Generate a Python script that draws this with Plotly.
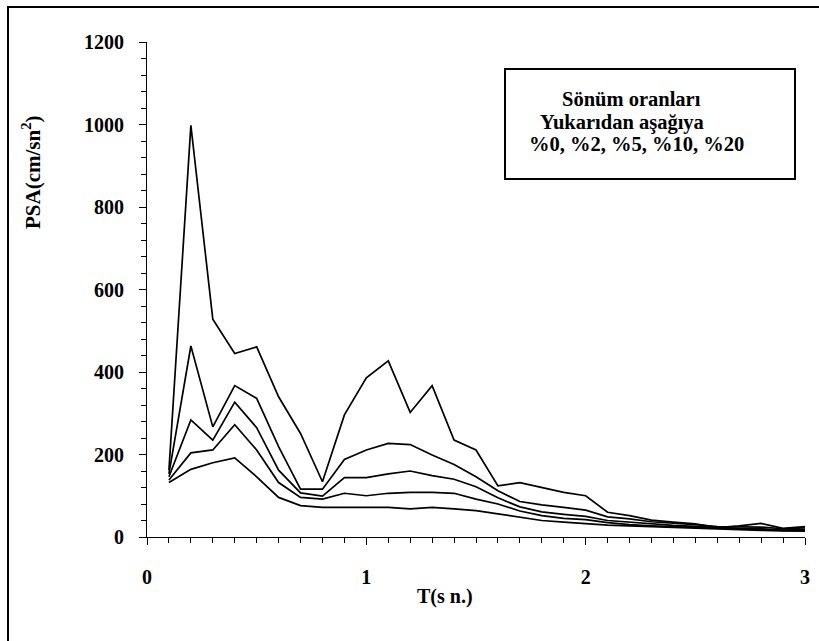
import plotly.graph_objects as go

# Periods T (s) and pseudo-spectral acceleration for each damping ratio
periods = [round(0.1 * i, 1) for i in range(1, 31)]

psa_0 = [162, 998, 528, 445, 461, 340, 251, 134, 296, 386,
         427, 302, 367, 235, 211, 124, 132, 120, 108, 100,
         60, 52, 41, 36, 32, 23, 27, 33, 21, 25]
psa_2 = [153, 463, 267, 367, 336, 219, 116, 116, 188, 211,
         227, 224, 199, 176, 146, 112, 86, 78, 72, 65,
         49, 44, 37, 34, 30, 25, 24, 24, 20, 22]
psa_5 = [146, 284, 235, 327, 265, 162, 107, 99, 144, 144,
         153, 160, 149, 140, 122, 95, 73, 61, 55, 50,
         40, 36, 32, 28, 26, 23, 21, 20, 17, 18]
psa_10 = [138, 204, 211, 272, 211, 132, 96, 92, 106, 100,
          106, 108, 108, 106, 92, 80, 63, 52, 45, 42,
          35, 30, 27, 25, 23, 21, 20, 18, 16, 16]
psa_20 = [132, 164, 180, 192, 146, 96, 76, 72, 72, 72,
          72, 68, 72, 68, 64, 56, 48, 40, 36, 32,
          29, 27, 25, 23, 21, 20, 18, 16, 15, 14]

series = [psa_0, psa_2, psa_5, psa_10, psa_20]
names = ["%0", "%2", "%5", "%10", "%20"]

legend_lines = ["Sönüm oranları", "Yukarıdan aşağıya", "%0, %2, %5, %10, %20"]

FONT = "Liberation Serif"

fig = go.Figure()
for vals, name in zip(series, names):
    fig.add_trace(go.Scatter(x=periods, y=vals, mode="lines", name=name,
                             line=dict(color="black", width=1.7),
                             showlegend=False))

W, H = 819, 641
L, R, T, B = 147, 14, 42, 104
pw, ph = W - L - R, H - T - B


def px_x(p):
    return (p - L) / pw


def px_y(p):
    return (H - B - p) / ph


tick_font = dict(family=FONT, size=20, color="black", weight="bold")
axis_common = dict(showline=True, linecolor="black", linewidth=1.2,
                   ticks="outside", tickcolor="black", showgrid=False,
                   zeroline=False, mirror=False, tickfont=tick_font)

fig.update_xaxes(range=[0, 3], tickvals=[0, 1, 2, 3], ticklen=7, tickwidth=1.2,
                 ticklabelstandoff=15,
                 minor=dict(dtick=0.1, tick0=0, ticklen=5, ticks="outside",
                            tickcolor="black", tickwidth=1.2, showgrid=False),
                 **axis_common)
fig.update_yaxes(range=[0, 1200], tickvals=[0, 200, 400, 600, 800, 1000, 1200],
                 ticklen=7, tickwidth=1.2, ticklabelstandoff=11,
                 minor=dict(dtick=40, tick0=0, ticklen=5, ticks="outside",
                            tickcolor="black", tickwidth=1.2, showgrid=False),
                 **axis_common)

shapes = [
    # outer frame
    dict(type="rect", xref="paper", yref="paper",
         x0=px_x(8), x1=px_x(840), y0=px_y(660), y1=px_y(7),
         line=dict(color="black", width=2), layer="below"),
    # note box
    dict(type="rect", xref="paper", yref="paper",
         x0=px_x(505), x1=px_x(795), y0=px_y(179), y1=px_y(69),
         line=dict(color="black", width=2)),
]

annotations = [
    dict(text="<b>PSA(cm/sn<sup>2</sup>)</b>", xref="paper", yref="paper",
         x=px_x(31), y=px_y(172), textangle=-90, showarrow=False,
         xanchor="center", yanchor="middle",
         font=dict(family=FONT, size=21, color="black")),
    dict(text="<b>T(s n.)</b>", xref="paper", yref="paper",
         x=px_x(445), y=px_y(596), showarrow=False,
         xanchor="center", yanchor="middle",
         font=dict(family=FONT, size=20, color="black")),
]
for txt, cx, cy in zip(legend_lines, [631, 622, 636], [99, 122, 144]):
    annotations.append(dict(text=f"<b>{txt}</b>", xref="paper", yref="paper",
                            x=px_x(cx), y=px_y(cy), showarrow=False,
                            xanchor="center", yanchor="middle",
                            font=dict(family=FONT, size=20.5, color="black")))

fig.update_layout(width=W, height=H,
                  margin=dict(l=L, r=R, t=T, b=B, autoexpand=False),
                  paper_bgcolor="white", plot_bgcolor="white",
                  font=dict(family=FONT, color="black"),
                  shapes=shapes, annotations=annotations)

fig.write_html("out.html")
